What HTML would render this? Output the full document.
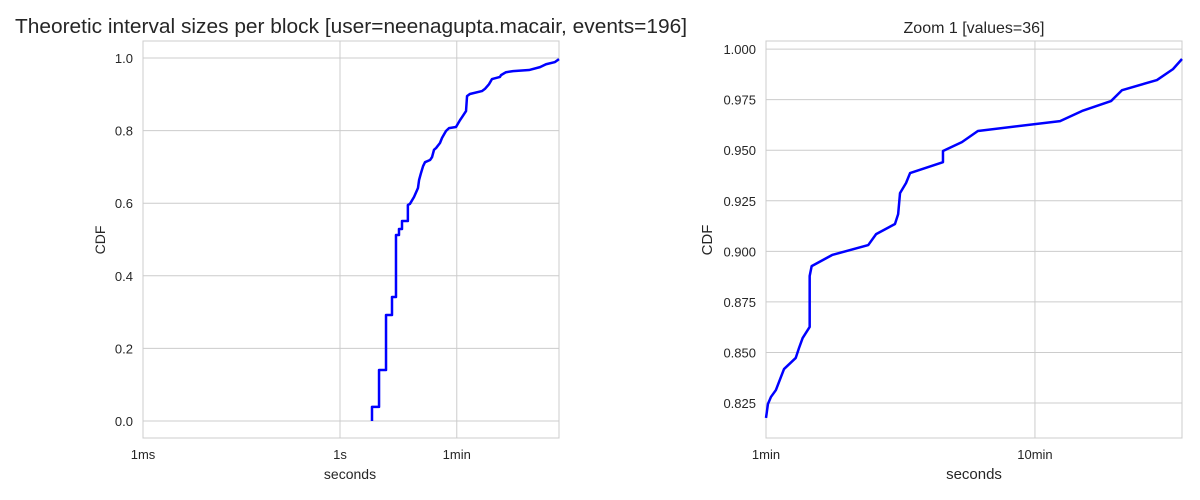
<!DOCTYPE html>
<html><head><meta charset="utf-8"><style>
body{margin:0;background:#fff;}
svg{display:block;font-family:"Liberation Sans",sans-serif;}
</style></head><body>
<svg id="c" width="1200" height="500"></svg>
<script>
// Left chart data (seconds, CDF)
const leftX=[3.07,3.93,5.02,6.19,7.12,7.91,8.79,10.8,11.6,13.4,15.4,16.0,17.1,18.4,19.7,23.5,25.2,27.0,29.0,33.3,35.8,41.1,45.7,58.4,67.2,72.1,83,86,95,145,161,186,206,273,283,337,431,755,1111,1371,1879,2162];
const leftY=[0.0386,0.1405,0.292,0.3416,0.5124,0.529,0.551,0.595,0.598,0.617,0.642,0.664,0.683,0.702,0.713,0.719,0.727,0.747,0.752,0.766,0.780,0.799,0.807,0.810,0.829,0.837,0.854,0.895,0.901,0.909,0.915,0.928,0.942,0.948,0.953,0.961,0.964,0.967,0.975,0.983,0.989,0.997];
const leftYTicks=[0,0.2,0.4,0.6,0.8,1.0];
const leftYTickLabels=["0.0","0.2","0.4","0.6","0.8","1.0"];
const leftXTicks=[0.001,1,60];
const leftXTickLabels=["1ms","1s","1min"];
// Right chart data
const rightX=[60,61.0,62.6,65.3,70.0,77.4,79.6,82.1,87.2,87.2,88.7,105.7,144,154,181,186,189,199,206,273,273,321,368,744,898,1151,1265,1705,1956,2113];
const rightY=[0.8176,0.8245,0.828,0.8314,0.8418,0.8473,0.8522,0.8571,0.8626,0.8878,0.8927,0.8982,0.9031,0.9085,0.9135,0.9184,0.9288,0.9338,0.9387,0.9441,0.9496,0.954,0.9595,0.9644,0.9694,0.9743,0.9797,0.9847,0.9901,0.9951];
const rightYTicks=[0.825,0.85,0.875,0.9,0.925,0.95,0.975,1.0];
const rightYTickLabels=["0.825","0.850","0.875","0.900","0.925","0.950","0.975","1.000"];
const rightXTicks=[60,600];
const rightXTickLabels=["1min","10min"];

const NS="http://www.w3.org/2000/svg";
const svg=document.getElementById('c');
function mk(tag,attrs,parent){const e=document.createElementNS(NS,tag);for(const k in attrs)e.setAttribute(k,attrs[k]);(parent||svg).appendChild(e);return e;}
function logScale(d0,d1,r0,r1){const a=Math.log10(d0),b=Math.log10(d1);return v=>r0+(Math.log10(v)-a)/(b-a)*(r1-r0);}
function linScale(d0,d1,r0,r1){return v=>r0+(v-d0)/(d1-d0)*(r1-r0);}

function panel(name,L,T,R,B,xs,ys,xt,xtl,yt,ytl,pts,stepN,fs){
  const g=mk('g',{},svg);
  
  
  xt.forEach((v,i)=>{const x=xs(v);
    const l=mk('line',{x1:x,x2:x,y1:T,y2:B,stroke:'#cccccc','stroke-width':1},g);
    
    const t=mk('text',{x:x,y:B+21,'text-anchor':'middle','font-size':fs,fill:'#262626'},g);
    
    t.textContent=xtl[i];});
  yt.forEach((v,i)=>{const y=ys(v);
    const l=mk('line',{x1:L,x2:R,y1:y,y2:y,stroke:'#cccccc','stroke-width':1},g);
    
    const t=mk('text',{x:L-10,y:y+5,'text-anchor':'end','font-size':fs,fill:'#262626'},g);
    
    t.textContent=ytl[i];});
  const f=mk('rect',{x:L,y:T,width:R-L,height:B-T,fill:'none',stroke:'#cccccc','stroke-width':1},g);
  
  let d='';
  let py=ys(0);
  pts.x.forEach((v,i)=>{const x=xs(v),y=ys(pts.y[i]);
    if(i<stepN){d+=(i?'L':'M')+x+','+py+'L'+x+','+y;}
    else d+=(i?'L':'M')+x+','+y;
    py=y;});
  const p=mk('path',{d:d,fill:'none',stroke:'#0000ff','stroke-width':2.5,'stroke-linejoin':'round'},g);
  
}
// left
const lxs=logScale(0.001,2162,143,559), lys=linScale(-0.047,1.047,438,41);
panel('left-chart',143,41,559,438,lxs,lys,leftXTicks,leftXTickLabels,leftYTicks,leftYTickLabels,{x:leftX,y:leftY},8,13);
// right
const rxs=logScale(60,2113,766,1182), rys=linScale(0.8077,1.004,438,41);
panel('right-chart',766,41,1182,438,rxs,rys,rightXTicks,rightXTickLabels,rightYTicks,rightYTickLabels,{x:rightX,y:rightY},0,13);
</script>
<svg style="position:absolute;left:0;top:0" width="1200" height="500">
<text x="15" y="33" font-size="20" fill="#262626" textLength="672" lengthAdjust="spacingAndGlyphs">Theoretic interval sizes per block [user=neenagupta.macair, events=196]</text>
<text x="974" y="33" text-anchor="middle" font-size="16" fill="#262626">Zoom 1 [values=36]</text>
<text x="350" y="479" text-anchor="middle" font-size="14" fill="#262626">seconds</text>
<text x="974" y="479" text-anchor="middle" font-size="15" fill="#262626">seconds</text>
<text transform="translate(105,240) rotate(-90)" text-anchor="middle" font-size="14" fill="#262626">CDF</text>
<text transform="translate(712,240) rotate(-90)" text-anchor="middle" font-size="15" fill="#262626">CDF</text>
</svg>
</body></html>
